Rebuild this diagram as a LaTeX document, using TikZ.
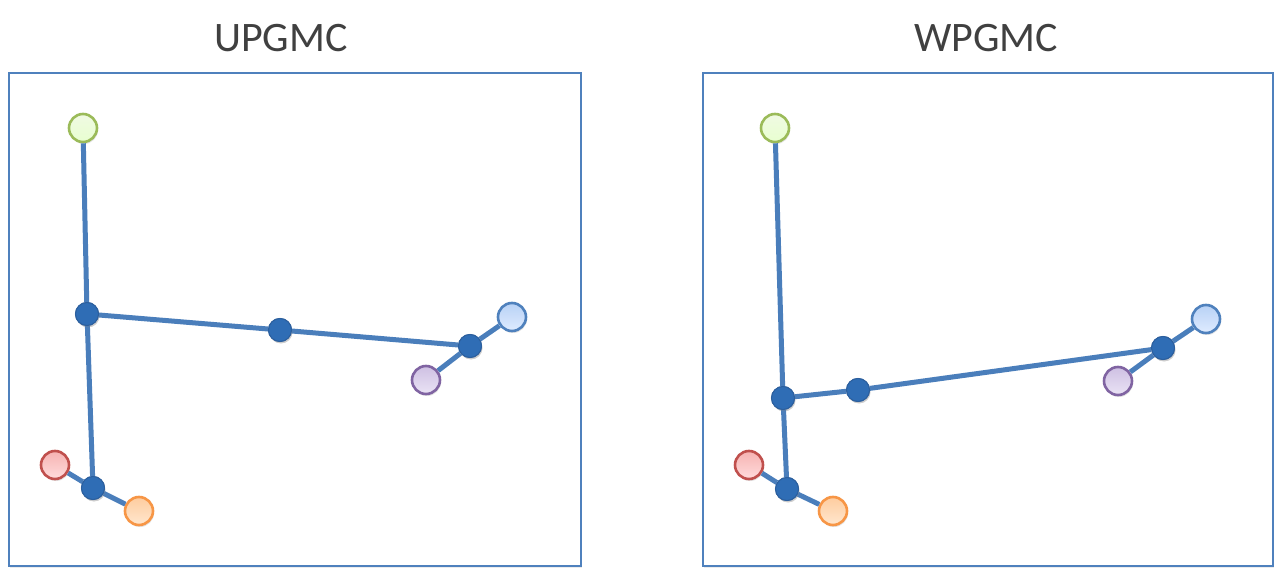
\documentclass[tikz,border=0pt]{standalone}
\usepackage{fontspec}
\setmainfont{Carlito}
\usetikzlibrary{shadows}
\definecolor{edgeblue}{HTML}{4A7EBB}
\definecolor{framecol}{HTML}{4F81BD}
\definecolor{darkfill}{HTML}{2F6DB5}
\definecolor{darkdraw}{HTML}{2C5F9E}
\definecolor{titlecol}{HTML}{404040}
\definecolor{gfill}{HTML}{E8FFD0}\definecolor{gdraw}{HTML}{9BBB59}
\definecolor{rfill}{HTML}{FFC4C4}\definecolor{rdraw}{HTML}{C0504D}
\definecolor{ofill}{HTML}{FFD6AE}\definecolor{odraw}{HTML}{F79646}
\definecolor{bfill}{HTML}{CADFFF}\definecolor{bdraw}{HTML}{4F81BD}
\definecolor{pfill}{HTML}{DCD0EE}\definecolor{pdraw}{HTML}{8064A2}
\tikzset{
  shad/.style={drop shadow={opacity=0.22,shadow xshift=1pt,shadow yshift=-2pt}},
  leaf/.style={circle,inner sep=0pt,minimum size=28pt,line width=2.6pt,shad},
  gleaf/.style={leaf,draw=gdraw,top color=gfill!80!gdraw!40,bottom color=gfill},
  rleaf/.style={leaf,draw=rdraw,top color=rfill!85!rdraw,bottom color=rfill!60},
  oleaf/.style={leaf,draw=odraw,top color=ofill!85!odraw,bottom color=ofill!60},
  bleaf/.style={leaf,draw=bdraw,top color=bfill!85!bdraw,bottom color=bfill!60},
  pleaf/.style={leaf,draw=pdraw,top color=pfill!85!pdraw,bottom color=pfill!60},
  junc/.style={circle,inner sep=0pt,minimum size=23pt,fill=darkfill,draw=darkdraw,line width=1pt,shad},
  link/.style={draw=edgeblue,line width=5pt},
  panel/.style={draw=framecol,line width=2.4pt,drop shadow={opacity=0.15,shadow xshift=1pt,shadow yshift=-2pt},fill=white},
  ttl/.style={text=titlecol,font=\fontsize{42}{48}\selectfont}
}
\begin{document}
\begin{tikzpicture}[x=1pt,y=-1pt]
\useasboundingbox (0,0) rectangle (1280,577);
% panels
\node[panel,minimum width=572pt,minimum height=493pt,inner sep=0pt,anchor=north west] (pl) at (8,72) {};
\node[panel,minimum width=570pt,minimum height=493pt,inner sep=0pt,anchor=north west] (pr) at (702,72) {};
\node[ttl] (tl) at (281,38) {UPGMC};
\node[ttl] (tr) at (986,38) {WPGMC};
% left panel
\node[gleaf] (lg) at (83,128) {};
\node[junc] (la) at (87,314) {};
\node[junc] (lb) at (280,330) {};
\node[junc] (lc) at (470,346) {};
\node[bleaf] (lbl) at (512,317) {};
\node[pleaf] (lp) at (426,380) {};
\node[rleaf] (lr) at (55,465) {};
\node[junc] (ld) at (93,488) {};
\node[oleaf] (lo) at (139,511) {};
% right panel
\node[gleaf] (rg) at (775,128) {};
\node[junc] (ra) at (783,398) {};
\node[junc] (rb) at (858,390) {};
\node[junc] (rc) at (1163,348) {};
\node[bleaf] (rbl) at (1206,319) {};
\node[pleaf] (rp) at (1118,381) {};
\node[rleaf] (rr) at (749,465) {};
\node[junc] (rd) at (787,489) {};
\node[oleaf] (ro) at (833,511) {};
% edges
\foreach \p in {l,r}{
  \draw[link] (\p g) -- (\p a);
  \draw[link] (\p a) -- (\p d);
  \draw[link] (\p a) -- (\p b);
  \draw[link] (\p b) -- (\p c);
  \draw[link] (\p c) -- (\p bl);
  \draw[link] (\p c) -- (\p p);
  \draw[link] (\p d) -- (\p r);
  \draw[link] (\p d) -- (\p o);
}
% redraw junctions on top of lines
\foreach \ax/\ay/\bx/\by/\cx/\cy/\dx/\dy in {87/314/280/330/470/346/93/488, 783/398/858/390/1163/348/787/489}{
  \node[junc] at (\ax,\ay) {};
  \node[junc] at (\bx,\by) {};
  \node[junc] at (\cx,\cy) {};
  \node[junc] at (\dx,\dy) {};
}
\end{tikzpicture}
\end{document}
